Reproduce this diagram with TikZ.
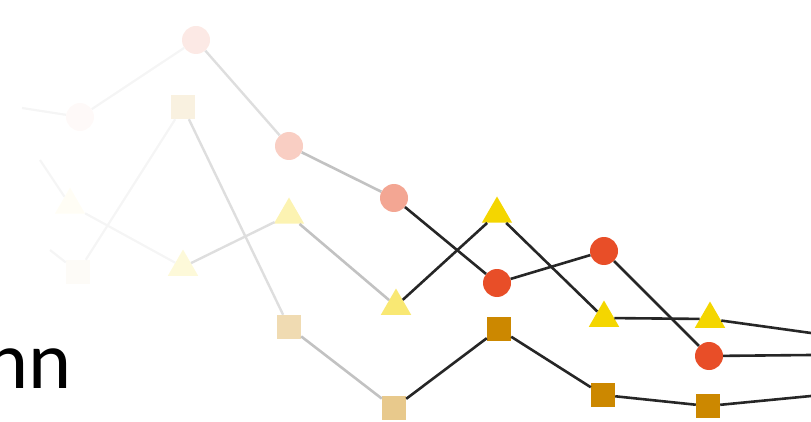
\documentclass[tikz,border=0pt]{standalone}
\usepackage{fontspec}
\setmainfont{Carlito}
\usetikzlibrary{shapes}
\usetikzlibrary{positioning}

\definecolor{dotred}{RGB}{232,78,40}
\definecolor{dotyellow}{RGB}{244,214,0}
\definecolor{dotgold}{RGB}{204,136,0}

\begin{document}
\begin{tikzpicture}[x=1pt,y=-1pt]
\tikzstyle{dot}=[circle,fill=dotred,inner sep=0pt,minimum size=28pt]
\tikzstyle{tri}=[regular polygon,regular polygon sides=3,fill=dotyellow,
inner sep=0pt,minimum size=35pt]
\tikzstyle{box}=[rectangle,fill=dotgold,inner sep=0pt,minimum size=24pt]
\tikzstyle{link}=[draw=black!85,line width=2.6pt]
\tikzstyle{linkmid}=[draw=black!24,line width=2.6pt]
\tikzstyle{linklight}=[draw=black!13,line width=2.4pt]
\tikzstyle{linkfaint}=[draw=black!4,line width=2.2pt]

\useasboundingbox (0,0) rectangle (811,422);

% red row
\node[dot,opacity=0.03] (red a) at (80,117) {};
\node[dot,opacity=0.12] (red b) at (196,40) {};
\node[dot,opacity=0.28] (red c) at (289,146) {};
\node[dot,opacity=0.5] (red d) at (394,198) {};
\node[dot] (red e) at (497,283) {};
\node[dot] (red f) at (604,251) {};
\node[dot] (red g) at (709,356) {};
\coordinate (red start) at (22,108);
\coordinate (red end) at (811,355);

% yellow row
\node[tri,opacity=0.04] (yellow a) at (70,205) {};
\node[tri,opacity=0.15] (yellow b) at (183,267) {};
\node[tri,opacity=0.3] (yellow c) at (289,215) {};
\node[tri,opacity=0.55] (yellow d) at (396,306) {};
\node[tri] (yellow e) at (497,214) {};
\node[tri] (yellow f) at (604,318) {};
\node[tri] (yellow g) at (710,319) {};
\coordinate (yellow start) at (40,160);
\coordinate (yellow end) at (811,333);

% gold row
\node[box,opacity=0.03] (gold a) at (78,272) {};
\node[box,opacity=0.12] (gold b) at (183,107) {};
\node[box,opacity=0.3] (gold c) at (289,327) {};
\node[box,opacity=0.45] (gold d) at (394,408) {};
\node[box] (gold e) at (499,329) {};
\node[box] (gold f) at (603,395) {};
\node[box] (gold g) at (708,406) {};
\coordinate (gold start) at (50,250);
\coordinate (gold end) at (811,396);

% faded links
\draw[linkfaint] (red start) -- (red a);
\draw[linkfaint] (red a) -- (red b);
\draw[linklight] (red b) -- (red c);
\draw[linkmid] (red c) -- (red d);
\draw[linkfaint] (yellow start) -- (yellow a);
\draw[linkfaint] (yellow a) -- (yellow b);
\draw[linklight] (yellow b) -- (yellow c);
\draw[linkmid] (yellow c) -- (yellow d);
\draw[linkfaint] (gold start) -- (gold a);
\draw[linkfaint] (gold a) -- (gold b);
\draw[linklight] (gold b) -- (gold c);
\draw[linkmid] (gold c) -- (gold d);

% dark links
\draw[link] (red d) -- (red e) -- (red f) -- (red g) -- (red end);
\draw[link] (yellow d) -- (yellow e) -- (yellow f) -- (yellow g) -- (yellow end);
\draw[link] (gold d) -- (gold e) -- (gold f) -- (gold g) -- (gold end);

\node[anchor=base east,inner sep=0pt,font=\fontsize{82}{90}\selectfont]
(label) at (72,388) {nn};
\end{tikzpicture}
\end{document}
